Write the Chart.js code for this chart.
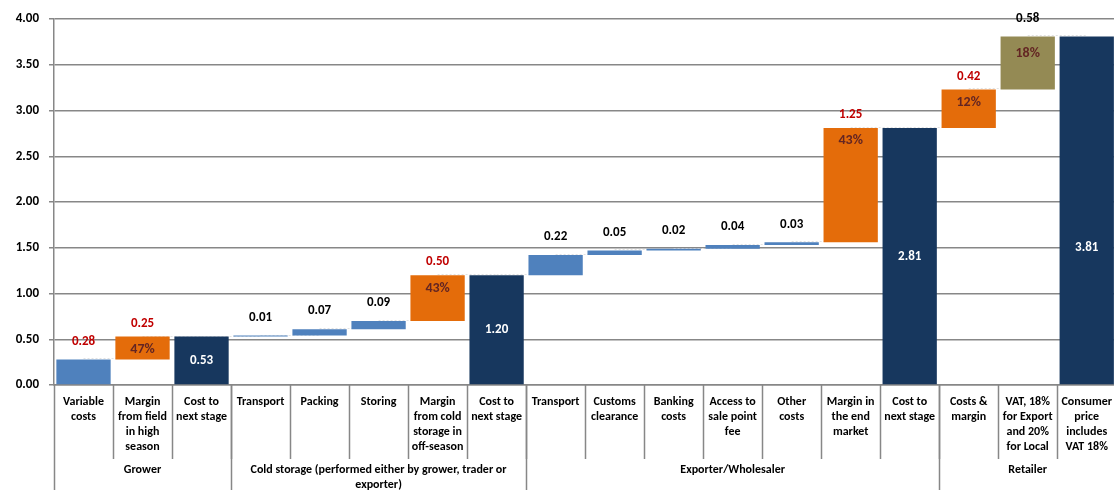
<!DOCTYPE html>
<html>
<head>
<meta charset="utf-8">
<script src="https://cdn.jsdelivr.net/npm/chart.js@4/dist/chart.umd.min.js"></script>
<style>
  html, body { margin: 0; padding: 0; background: #fff; overflow: hidden; }
  #wrap { width: 1121px; height: 490px; }
</style>
</head>
<body>
<div id="wrap"><canvas id="chain" width="1121" height="490"></canvas></div>
<script>
const categories = [
    ["Variable", "costs"],
    ["Margin", "from field", "in high", "season"],
    ["Cost to", "next stage"],
    ["Transport"],
    ["Packing"],
    ["Storing"],
    ["Margin", "from cold", "storage in", "off-season"],
    ["Cost to", "next stage"],
    ["Transport"],
    ["Customs", "clearance"],
    ["Banking", "costs"],
    ["Access to", "sale point", "fee"],
    ["Other", "costs"],
    ["Margin in", "the end", "market"],
    ["Cost to", "next stage"],
    ["Costs &", "margin"],
    ["VAT, 18%", "for Export", "and 20%", "for Local"],
    ["Consumer", "price", "includes", "VAT 18%"],
];

// step values; "total" entries are the running price at that stage
const values = [0.28, 0.25, 0.53, 0.01, 0.07, 0.09, 0.50, 1.20, 0.22, 0.05, 0.02, 0.04, 0.03, 1.25, 2.81, 0.42, 0.58, 3.81];
const kinds  = ["cost", "margin", "total", "cost", "cost", "cost", "margin", "total", "cost", "cost", "cost", "cost", "cost", "margin", "total", "margin", "tax", "total"];
const shares = ["", "47%", "", "", "", "", "43%", "", "", "", "", "", "", "43%", "", "12%", "18%", ""];
// steps whose value is printed in red
const redSteps = [0, 1, 6, 13, 15];

const groupNames = [
    ["Grower"],
    ["Cold storage (performed either by grower, trader or", "exporter)"],
    ["Exporter/Wholesaler"],
    ["Retailer"],
];
const groupSizes = [3, 5, 7, 3];

const yTicks = [0, 0.5, 1, 1.5, 2, 2.5, 3, 3.5, 4];

const colors = { cost: "#4f81bd", margin: "#e46c0a", tax: "#948a54", total: "#17375e" };
const lineGray = "#878787";
const FONT = "Carlito, Lato, 'Liberation Sans', sans-serif";

// floating bars: [start, end]
let running = 0;
const floating = values.map((v, i) => {
    if (kinds[i] === "total") {
        running = v;
        return [0, v];
    }
    const seg = [running, running + v];
    running += v;
    return seg;
});

const connectors = {
    id: "connectors",
    beforeDatasetsDraw(chart) {
        const ctx = chart.ctx;
        const y = chart.scales.y;
        const bars = chart.getDatasetMeta(0).data;
        ctx.save();
        ctx.strokeStyle = "#e2e2e2";
        ctx.lineWidth = 1;
        ctx.setLineDash([2, 2]);
        for (let i = 0; i < bars.length - 1; i++) {
            const py = Math.round(y.getPixelForValue(floating[i][1])) - 0.5;
            ctx.beginPath();
            ctx.moveTo(bars[i].x, py);
            ctx.lineTo(bars[i + 1].x, py);
            ctx.stroke();
        }
        ctx.restore();
    }
};

const barLabels = {
    id: "barLabels",
    afterDatasetsDraw(chart) {
        const ctx = chart.ctx;
        const y = chart.scales.y;
        const bars = chart.getDatasetMeta(0).data;
        ctx.save();
        ctx.textAlign = "center";
        ctx.textBaseline = "middle";
        bars.forEach((bar, i) => {
            const v = values[i];
            const kind = kinds[i];
            const top = Math.min(bar.y, bar.base);
            ctx.font = "bold 13px " + FONT;
            if (kind === "total") {
                ctx.fillStyle = "#ffffff";
                ctx.fillText(v.toFixed(2), bar.x, y.getPixelForValue(Math.min(v / 2, 1.5)));
                return;
            }
            ctx.fillStyle = redSteps.includes(i) ? "#c00000" : "#000000";
            ctx.fillText(v.toFixed(2), bar.x, top - (kind === "margin" ? 13 : 18));
            if (shares[i]) {
                ctx.fillStyle = "#632523";
                ctx.font = "bold 14px " + FONT;
                ctx.fillText(shares[i], bar.x, top + (kind === "tax" ? 17 : 13));
            }
        });
        ctx.restore();
    }
};

const axisFrame = {
    id: "axisFrame",
    afterDraw(chart) {
        const ctx = chart.ctx;
        const area = chart.chartArea;
        const step = (area.right - area.left) / categories.length;
        const rowBottom = area.bottom + 74;
        ctx.save();
        ctx.strokeStyle = lineGray;
        ctx.lineWidth = 1.5;
        // separators between category labels
        for (let i = 1; i < categories.length; i++) {
            const px = Math.round(area.left + step * i) + 0.5;
            ctx.beginPath();
            ctx.moveTo(px, area.bottom);
            ctx.lineTo(px, rowBottom);
            ctx.stroke();
        }
        // group separators and group names
        let start = 0;
        groupSizes.forEach((n, g) => {
            const left = area.left + step * start;
            const right = area.left + step * (start + n);
            const px = Math.round(left) + 0.5;
            ctx.beginPath();
            ctx.moveTo(px, area.bottom);
            ctx.lineTo(px, chart.height);
            ctx.stroke();
            ctx.fillStyle = "#000";
            ctx.font = "bold 12px " + FONT;
            ctx.textAlign = "center";
            ctx.textBaseline = "middle";
            groupNames[g].forEach((line, k) => {
                ctx.fillText(line, (left + right) / 2, area.bottom + 85 + k * 15);
            });
            start += n;
        });
        ctx.restore();
    }
};

new Chart(document.getElementById("chain"), {
    type: "bar",
    data: {
        labels: categories,
        datasets: [{
            data: floating,
            backgroundColor: kinds.map(k => colors[k]),
            borderWidth: 0,
            barPercentage: 0.92,
            categoryPercentage: 1.0,
        }],
    },
    options: {
        responsive: false,
        devicePixelRatio: 1,
        animation: false,
        layout: { padding: { top: 19, right: 0, left: 0, bottom: 0 } },
        plugins: {
            legend: { display: false },
            tooltip: { enabled: false },
        },
        scales: {
            y: {
                min: 0,
                max: 4,
                afterFit(scale) { scale.width = 54; },
                afterBuildTicks(scale) { scale.ticks = yTicks.map(v => ({ value: v })); },
                ticks: {
                    padding: 10,
                    color: "#000",
                    font: { family: FONT, size: 13, weight: "bold" },
                    callback: v => Number(v).toFixed(2),
                },
                grid: { color: lineGray, lineWidth: 1.5, tickLength: 5, tickColor: lineGray },
                border: { color: lineGray, width: 1.5 },
            },
            x: {
                afterFit(scale) { scale.height = 105; },
                grid: { display: false, drawTicks: false },
                border: { color: lineGray, width: 1.5 },
                ticks: {
                    autoSkip: false,
                    maxRotation: 0,
                    minRotation: 0,
                    padding: 9,
                    color: "#000",
                    font: { family: FONT, size: 12, weight: "bold", lineHeight: 1.25 },
                },
            },
        },
    },
    plugins: [connectors, barLabels, axisFrame],
});
</script>
</body>
</html>
